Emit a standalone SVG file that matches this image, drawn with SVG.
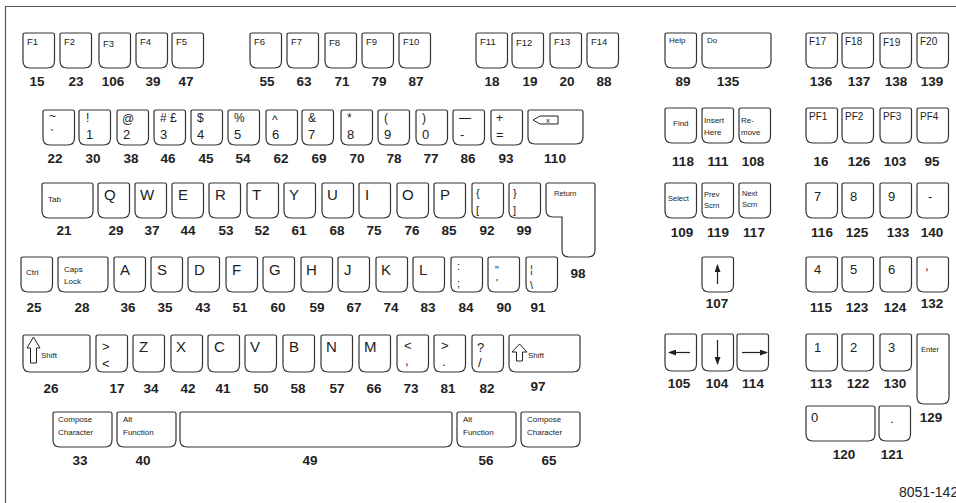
<svg xmlns="http://www.w3.org/2000/svg" width="956" height="503" viewBox="0 0 956 503">
<style>
text{font-family:"Liberation Sans",Arial,sans-serif;fill:#222}
.key{fill:#fff;stroke:#333;stroke-width:1.2}
.lb{font-weight:bold;font-size:13.5px;text-anchor:middle}
.t15{font-size:15px}.t13{font-size:13px}.t12{font-size:12px}.t11{font-size:11px}
.t10{font-size:10px}.t9{font-size:9.5px}.t8{font-size:8px}.t7{font-size:7.5px}
.arr{stroke:#222;stroke-width:1.2;fill:none}
.sh{fill:#fff;stroke:#222;stroke-width:1}
</style>
<defs>
<path id="k" d="M2,0H29.5Q31.5,0 31.5,2V28Q31.5,35 24.5,35H7Q0,35 0,28V2Q0,0 2,0Z"/>
<path id="k37" d="M2,0H29.5Q31.5,0 31.5,2V30Q31.5,37 24.5,37H7Q0,37 0,30V2Q0,0 2,0Z"/>
<path id="w50" d="M2,0H48Q50,0 50,2V28Q50,35 43,35H7Q0,35 0,28V2Q0,0 2,0Z"/>
<path id="w51" d="M2,0H49Q51,0 51,2V28Q51,35 44,35H7Q0,35 0,28V2Q0,0 2,0Z"/>
<path id="w55" d="M2,0H53Q55,0 55,2V27Q55,34 48,34H7Q0,34 0,27V2Q0,0 2,0Z"/>
<path id="w59" d="M2,0H57Q59,0 59,2V28Q59,35 52,35H7Q0,35 0,28V2Q0,0 2,0Z"/>
<path id="w69" d="M2,0H67Q69,0 69,2V28Q69,35 62,35H7Q0,35 0,28V2Q0,0 2,0Z"/>
<path id="w67" d="M2,0H65Q67,0 67,2V30Q67,37 60,37H7Q0,37 0,30V2Q0,0 2,0Z"/>
<path id="w71" d="M2,0H69Q71,0 71,2V30Q71,37 64,37H7Q0,37 0,30V2Q0,0 2,0Z"/>
<path id="w272" d="M2,0H270Q272,0 272,2V28Q272,35 265,35H7Q0,35 0,28V2Q0,0 2,0Z"/>
<path id="ent" d="M2,0H30Q32,0 32,2V63Q32,70 25,70H7Q0,70 0,63V2Q0,0 2,0Z"/>
<marker id="ah" markerUnits="userSpaceOnUse" markerWidth="8" markerHeight="6" refX="7" refY="3" orient="auto"><path d="M0,0L8,3L0,6Z" fill="#222"/></marker>
</defs>
<polyline points="5.5,503 5.5,6.5 956,6.5" fill="none" stroke="#555" stroke-width="1.2"/>
<g id="connectors"/>
<!-- Row 1 -->
<g id="key15"><use href="#k" class="key" x="23" y="33"/><text class="t9" x="27" y="45">F1</text><text class="lb" x="37" y="86">15</text></g>
<g id="key23"><use href="#k" class="key" x="60" y="33"/><text class="t9" x="64" y="45">F2</text><text class="lb" x="76" y="86">23</text></g>
<g id="key106"><use href="#k" class="key" x="99" y="33"/><text class="t9" x="103" y="47">F3</text><text class="lb" x="113" y="86">106</text></g>
<g id="key39"><use href="#k" class="key" x="136" y="33"/><text class="t9" x="140" y="45">F4</text><text class="lb" x="153" y="86">39</text></g>
<g id="key47"><use href="#k" class="key" x="172" y="33"/><text class="t9" x="176" y="45">F5</text><text class="lb" x="186" y="86">47</text></g>
<g id="key55"><use href="#k" class="key" x="250" y="33"/><text class="t9" x="254" y="45">F6</text><text class="lb" x="267" y="86">55</text></g>
<g id="key63"><use href="#k" class="key" x="287" y="33"/><text class="t9" x="291" y="45">F7</text><text class="lb" x="304" y="86">63</text></g>
<g id="key71"><use href="#k" class="key" x="325" y="33"/><text class="t9" x="329" y="46">F8</text><text class="lb" x="342" y="86">71</text></g>
<g id="key79"><use href="#k" class="key" x="362" y="33"/><text class="t9" x="366" y="45">F9</text><text class="lb" x="379" y="86">79</text></g>
<g id="key87"><use href="#k" class="key" x="399" y="33"/><text class="t9" x="403" y="45">F10</text><text class="lb" x="416" y="86">87</text></g>
<g id="key18"><use href="#k" class="key" x="476" y="33"/><text class="t9" x="480" y="45">F11</text><text class="lb" x="492" y="86">18</text></g>
<g id="key19"><use href="#k" class="key" x="512" y="33"/><text class="t9" x="516" y="46">F12</text><text class="lb" x="530" y="86">19</text></g>
<g id="key20"><use href="#k" class="key" x="550" y="33"/><text class="t9" x="554" y="45">F13</text><text class="lb" x="567" y="86">20</text></g>
<g id="key88"><use href="#k" class="key" x="587" y="33"/><text class="t9" x="591" y="45">F14</text><text class="lb" x="604" y="86">88</text></g>
<g id="key89"><use href="#k" class="key" x="665" y="33"/><text class="t8" x="669" y="43">Help</text><text class="lb" x="683" y="86">89</text></g>
<g id="key135"><use href="#w69" class="key" x="702" y="33"/><text class="t8" x="707" y="43">Do</text><text class="lb" x="728" y="86">135</text></g>
<g id="key136"><use href="#k" class="key" x="806" y="33"/><text class="t10" x="809" y="45">F17</text><text class="lb" x="821" y="86">136</text></g>
<g id="key137"><use href="#k" class="key" x="842" y="33"/><text class="t10" x="845" y="45">F18</text><text class="lb" x="859" y="86">137</text></g>
<g id="key138"><use href="#k" class="key" x="880" y="33"/><text class="t10" x="883" y="46">F19</text><text class="lb" x="896" y="86">138</text></g>
<g id="key139"><use href="#k" class="key" x="917" y="33"/><text class="t10" x="920" y="45">F20</text><text class="lb" x="932" y="86">139</text></g>
<!-- Row 2 -->
<g id="key22"><use href="#k" class="key" x="43" y="110"/><text class="t12" x="49" y="120">~</text><text class="t12" x="50" y="139">`</text><text class="lb" x="55" y="163">22</text></g>
<g id="key30"><use href="#k" class="key" x="79" y="110"/><text class="t12" x="86" y="122">!</text><text class="t13" x="86" y="139">1</text><text class="lb" x="93" y="163">30</text></g>
<g id="key38"><use href="#k" class="key" x="117" y="110"/><text class="t12" x="122" y="123">@</text><text class="t13" x="123" y="139">2</text><text class="lb" x="131" y="163">38</text></g>
<g id="key46"><use href="#k" class="key" x="154" y="110"/><text class="t12" x="160" y="122"># £</text><text class="t13" x="160" y="139">3</text><text class="lb" x="168" y="163">46</text></g>
<g id="key45"><use href="#k" class="key" x="191" y="110"/><text class="t12" x="197" y="122">$</text><text class="t13" x="197" y="139">4</text><text class="lb" x="206" y="163">45</text></g>
<g id="key54"><use href="#k" class="key" x="228" y="110"/><text class="t12" x="234" y="122">%</text><text class="t13" x="234" y="139">5</text><text class="lb" x="243" y="163">54</text></g>
<g id="key62"><use href="#k" class="key" x="266" y="110"/><text class="t12" x="272" y="124">^</text><text class="t13" x="272" y="139">6</text><text class="lb" x="281" y="163">62</text></g>
<g id="key69"><use href="#k" class="key" x="302" y="110"/><text class="t12" x="308" y="122">&amp;</text><text class="t13" x="308" y="139">7</text><text class="lb" x="319" y="163">69</text></g>
<g id="key70"><use href="#k" class="key" x="341" y="110"/><text class="t12" x="347" y="122">*</text><text class="t13" x="347" y="139">8</text><text class="lb" x="357" y="163">70</text></g>
<g id="key78"><use href="#k" class="key" x="378" y="110"/><text class="t12" x="384" y="122">(</text><text class="t13" x="384" y="139">9</text><text class="lb" x="394" y="163">78</text></g>
<g id="key77"><use href="#k" class="key" x="416" y="110"/><text class="t12" x="422" y="122">)</text><text class="t13" x="422" y="139">0</text><text class="lb" x="431" y="163">77</text></g>
<g id="key86"><use href="#k" class="key" x="453" y="110"/><text class="t12" x="459" y="122">—</text><text class="t13" x="460" y="139">-</text><text class="lb" x="468" y="163">86</text></g>
<g id="key93"><use href="#k" class="key" x="491" y="110"/><text class="t12" x="496" y="122">+</text><text class="t13" x="496" y="139">=</text><text class="lb" x="506" y="163">93</text></g>
<g id="key110"><use href="#w55" class="key" x="528" y="110"/><path d="M533,120L540,116H558V124H540Z" fill="#fff" stroke="#222" stroke-width="1"/><text class="t8" x="546" y="123">x</text><text class="lb" x="555" y="163">110</text></g>
<g id="key118"><use href="#k" class="key" x="665" y="108"/><text class="t8" x="673" y="126">Find</text><text class="lb" x="683" y="166">118</text></g>
<g id="key111"><use href="#k" class="key" x="702" y="108"/><text class="t8" x="704" y="123">Insert</text><text class="t8" x="704" y="135">Here</text><text class="lb" x="718" y="166">111</text></g>
<g id="key108"><use href="#k" class="key" x="739" y="108"/><text class="t8" x="741" y="123">Re-</text><text class="t8" x="741" y="135">move</text><text class="lb" x="753" y="166">108</text></g>
<g id="key16"><use href="#k" class="key" x="806" y="108"/><text class="t10" x="809" y="120">PF1</text><text class="lb" x="821" y="166">16</text></g>
<g id="key126"><use href="#k" class="key" x="842" y="108"/><text class="t10" x="845" y="120">PF2</text><text class="lb" x="859" y="166">126</text></g>
<g id="key103"><use href="#k" class="key" x="880" y="108"/><text class="t10" x="883" y="120">PF3</text><text class="lb" x="895" y="166">103</text></g>
<g id="key95"><use href="#k" class="key" x="917" y="108"/><text class="t10" x="920" y="120">PF4</text><text class="lb" x="932" y="166">95</text></g>
<!-- Row 3 -->
<g id="key21"><use href="#w51" class="key" x="42" y="183"/><text class="t8" x="48" y="202">Tab</text><text class="lb" x="64" y="235">21</text></g>
<g id="key29"><use href="#k" class="key" x="98" y="183"/><text class="t15" x="104" y="200">Q</text><text class="lb" x="116" y="235">29</text></g>
<g id="key37"><use href="#k" class="key" x="135" y="183"/><text class="t15" x="140" y="200">W</text><text class="lb" x="152" y="235">37</text></g>
<g id="key44"><use href="#k" class="key" x="172" y="183"/><text class="t15" x="178" y="200">E</text><text class="lb" x="188" y="235">44</text></g>
<g id="key53"><use href="#k" class="key" x="209" y="183"/><text class="t15" x="215" y="200">R</text><text class="lb" x="226" y="235">53</text></g>
<g id="key52"><use href="#k" class="key" x="247" y="183"/><text class="t15" x="252" y="200">T</text><text class="lb" x="262" y="235">52</text></g>
<g id="key61"><use href="#k" class="key" x="284" y="183"/><text class="t15" x="289" y="200">Y</text><text class="lb" x="299" y="235">61</text></g>
<g id="key68"><use href="#k" class="key" x="322" y="183"/><text class="t15" x="327" y="200">U</text><text class="lb" x="337" y="235">68</text></g>
<g id="key75"><use href="#k" class="key" x="359" y="183"/><text class="t15" x="365" y="200">I</text><text class="lb" x="374" y="235">75</text></g>
<g id="key76"><use href="#k" class="key" x="397" y="183"/><text class="t15" x="402" y="200">O</text><text class="lb" x="412" y="235">76</text></g>
<g id="key85"><use href="#k" class="key" x="434" y="183"/><text class="t15" x="440" y="200">P</text><text class="lb" x="449" y="235">85</text></g>
<g id="key92"><use href="#k" class="key" x="472" y="183"/><text class="t11" x="476" y="197">{</text><text class="t11" x="476" y="214">[</text><text class="lb" x="487" y="235">92</text></g>
<g id="key99"><use href="#k" class="key" x="509" y="183"/><text class="t11" x="513" y="197">}</text><text class="t11" x="513" y="214">]</text><text class="lb" x="524" y="235">99</text></g>
<g id="key98"><path class="key" d="M548,183H593Q595,183 595,185V250Q595,257 588,257H569Q562,257 562,250V217H553Q546,217 546,210V185Q546,183 548,183Z"/><text class="t7" x="554" y="196">Return</text><text class="lb" x="578" y="278">98</text></g>
<g id="key109"><use href="#k" class="key" x="665" y="183"/><text class="t7" x="668" y="201">Select</text><text class="lb" x="682" y="237">109</text></g>
<g id="key119"><use href="#k" class="key" x="702" y="183"/><text class="t7" x="704" y="197">Prev</text><text class="t7" x="704" y="208">Scrn</text><text class="lb" x="718" y="237">119</text></g>
<g id="key117"><use href="#k" class="key" x="739" y="183"/><text class="t7" x="742" y="196">Next</text><text class="t7" x="742" y="207">Scrn</text><text class="lb" x="754" y="237">117</text></g>
<g id="key116"><use href="#k" class="key" x="806" y="183"/><text class="t13" x="814" y="201">7</text><text class="lb" x="822" y="237">116</text></g>
<g id="key125"><use href="#k" class="key" x="842" y="183"/><text class="t13" x="850" y="201">8</text><text class="lb" x="857" y="237">125</text></g>
<g id="key133"><use href="#k" class="key" x="880" y="183"/><text class="t13" x="888" y="201">9</text><text class="lb" x="898" y="237">133</text></g>
<g id="key140"><use href="#k" class="key" x="917" y="183"/><text class="t13" x="928" y="201">-</text><text class="lb" x="932" y="237">140</text></g>
<!-- Row 4 -->
<g id="key25"><use href="#k" class="key" x="21" y="257"/><text class="t8" x="26" y="275">Ctrl</text><text class="lb" x="34" y="312">25</text></g>
<g id="key28"><use href="#w50" class="key" x="58" y="257"/><text class="t8" x="64" y="272">Caps</text><text class="t8" x="64" y="284">Lock</text><text class="lb" x="82" y="312">28</text></g>
<g id="key36"><use href="#k" class="key" x="114" y="257"/><text class="t15" x="120" y="275">A</text><text class="lb" x="128" y="312">36</text></g>
<g id="key35"><use href="#k" class="key" x="151" y="257"/><text class="t15" x="157" y="275">S</text><text class="lb" x="165" y="312">35</text></g>
<g id="key43"><use href="#k" class="key" x="188" y="257"/><text class="t15" x="194" y="275">D</text><text class="lb" x="203" y="312">43</text></g>
<g id="key51"><use href="#k" class="key" x="226" y="257"/><text class="t15" x="232" y="275">F</text><text class="lb" x="240" y="312">51</text></g>
<g id="key60"><use href="#k" class="key" x="263" y="257"/><text class="t15" x="269" y="275">G</text><text class="lb" x="278" y="312">60</text></g>
<g id="key59"><use href="#k" class="key" x="301" y="257"/><text class="t15" x="306" y="275">H</text><text class="lb" x="317" y="312">59</text></g>
<g id="key67"><use href="#k" class="key" x="338" y="257"/><text class="t15" x="344" y="275">J</text><text class="lb" x="354" y="312">67</text></g>
<g id="key74"><use href="#k" class="key" x="376" y="257"/><text class="t15" x="381" y="275">K</text><text class="lb" x="391" y="312">74</text></g>
<g id="key83"><use href="#k" class="key" x="413" y="257"/><text class="t15" x="419" y="275">L</text><text class="lb" x="428" y="312">83</text></g>
<g id="key84"><use href="#k" class="key" x="451" y="257"/><text class="t11" x="457" y="270">:</text><text class="t11" x="457" y="287">;</text><text class="lb" x="466" y="312">84</text></g>
<g id="key90"><use href="#k" class="key" x="488" y="257"/><text class="t11" x="495" y="274">"</text><text class="t11" x="496" y="287">'</text><text class="lb" x="504" y="312">90</text></g>
<g id="key91"><use href="#k" class="key" x="526" y="257"/><text class="t11" x="530" y="273">¦</text><text class="t11" x="530" y="289">\</text><text class="lb" x="538" y="312">91</text></g>
<g id="key107"><use href="#k" class="key" x="702" y="257"/><line class="arr" x1="717.5" y1="284" x2="717.5" y2="265" marker-end="url(#ah)"/><text class="lb" x="717" y="308">107</text></g>
<g id="key115"><use href="#k" class="key" x="806" y="257"/><text class="t13" x="814" y="274">4</text><text class="lb" x="821" y="312">115</text></g>
<g id="key123"><use href="#k" class="key" x="842" y="257"/><text class="t13" x="850" y="274">5</text><text class="lb" x="857" y="312">123</text></g>
<g id="key124"><use href="#k" class="key" x="880" y="257"/><text class="t13" x="888" y="274">6</text><text class="lb" x="895" y="312">124</text></g>
<g id="key132"><use href="#k" class="key" x="917" y="257"/><text class="t13" x="925" y="270">,</text><text class="lb" x="932" y="308">132</text></g>
<!-- Row 5 -->
<g id="key26"><use href="#w67" class="key" x="23" y="335"/><path class="sh" d="M33.5,337L40,348H36.5V363H30.5V348H27Z"/><text class="t8" x="41" y="358">Shift</text><text class="lb" x="51" y="393">26</text></g>
<g id="key17"><use href="#k37" class="key" x="96" y="335"/><text class="t13" x="102" y="351">&gt;</text><text class="t13" x="102" y="368">&lt;</text><text class="lb" x="117" y="393">17</text></g>
<g id="key34"><use href="#k37" class="key" x="133" y="335"/><text class="t15" x="139" y="352">Z</text><text class="lb" x="151" y="393">34</text></g>
<g id="key42"><use href="#k37" class="key" x="171" y="335"/><text class="t15" x="176" y="352">X</text><text class="lb" x="188" y="393">42</text></g>
<g id="key41"><use href="#k37" class="key" x="208" y="335"/><text class="t15" x="214" y="352">C</text><text class="lb" x="223" y="393">41</text></g>
<g id="key50"><use href="#k37" class="key" x="245" y="335"/><text class="t15" x="250" y="352">V</text><text class="lb" x="261" y="393">50</text></g>
<g id="key58"><use href="#k37" class="key" x="283" y="335"/><text class="t15" x="289" y="352">B</text><text class="lb" x="298" y="393">58</text></g>
<g id="key57"><use href="#k37" class="key" x="321" y="335"/><text class="t15" x="326" y="352">N</text><text class="lb" x="337" y="393">57</text></g>
<g id="key66"><use href="#k37" class="key" x="359" y="335"/><text class="t15" x="364" y="352">M</text><text class="lb" x="374" y="393">66</text></g>
<g id="key73"><use href="#k37" class="key" x="397" y="335"/><text class="t13" x="404" y="350">&lt;</text><text class="t13" x="405" y="365">,</text><text class="lb" x="411" y="393">73</text></g>
<g id="key81"><use href="#k37" class="key" x="434" y="335"/><text class="t13" x="441" y="350">&gt;</text><text class="t13" x="442" y="366">.</text><text class="lb" x="448" y="393">81</text></g>
<g id="key82"><use href="#k37" class="key" x="472" y="335"/><text class="t13" x="477" y="352">?</text><text class="t13" x="478" y="367">/</text><text class="lb" x="487" y="393">82</text></g>
<g id="key97"><use href="#w71" class="key" x="509" y="335"/><path class="sh" d="M519.5,344L527,352H522.5V361H516.5V352H512Z"/><text class="t8" x="528" y="358">Shift</text><text class="lb" x="538" y="391">97</text></g>
<g id="key105"><use href="#k37" class="key" x="665" y="334"/><line class="arr" x1="690" y1="352.5" x2="669" y2="352.5" marker-end="url(#ah)"/><text class="lb" x="679" y="388">105</text></g>
<g id="key104"><use href="#k37" class="key" x="702" y="334"/><line class="arr" x1="717.5" y1="340" x2="717.5" y2="364" marker-end="url(#ah)"/><text class="lb" x="717" y="388">104</text></g>
<g id="key114"><use href="#k37" class="key" x="737" y="334"/><line class="arr" x1="742" y1="352.5" x2="767" y2="352.5" marker-end="url(#ah)"/><text class="lb" x="753" y="388">114</text></g>
<g id="key113"><use href="#k37" class="key" x="806" y="334"/><text class="t13" x="814" y="352">1</text><text class="lb" x="821" y="388">113</text></g>
<g id="key122"><use href="#k37" class="key" x="842" y="334"/><text class="t13" x="850" y="352">2</text><text class="lb" x="858" y="388">122</text></g>
<g id="key130"><use href="#k37" class="key" x="880" y="334"/><text class="t13" x="888" y="352">3</text><text class="lb" x="895" y="388">130</text></g>
<g id="key129"><use href="#ent" class="key" x="917" y="334"/><text class="t7" x="921" y="352">Enter</text><text class="lb" x="931" y="422">129</text></g>
<!-- Row 6 -->
<g id="key33"><use href="#w59" class="key" x="53" y="412"/><text class="t8" x="58" y="422">Compose</text><text class="t8" x="58" y="435">Character</text><text class="lb" x="80" y="465">33</text></g>
<g id="key40"><use href="#w59" class="key" x="117" y="412"/><text class="t8" x="123" y="422">Alt</text><text class="t8" x="123" y="435">Function</text><text class="lb" x="143" y="465">40</text></g>
<g id="key49"><use href="#w272" class="key" x="180" y="412"/><text class="lb" x="310" y="465">49</text></g>
<g id="key56"><use href="#w59" class="key" x="457" y="412"/><text class="t8" x="463" y="422">Alt</text><text class="t8" x="463" y="435">Function</text><text class="lb" x="486" y="465">56</text></g>
<g id="key65"><use href="#w59" class="key" x="521" y="412"/><text class="t8" x="527" y="422">Compose</text><text class="t8" x="527" y="435">Character</text><text class="lb" x="549" y="465">65</text></g>
<g id="key120"><use href="#w69" class="key" x="806" y="406"/><text class="t13" x="811" y="422">0</text><text class="lb" x="844" y="459">120</text></g>
<g id="key121"><use href="#k" class="key" x="879" y="406"/><text class="t13" x="890" y="423">.</text><text class="lb" x="892" y="459">121</text></g>
<text x="899" y="497" style="font-size:14px">8051-142</text>
</svg>
